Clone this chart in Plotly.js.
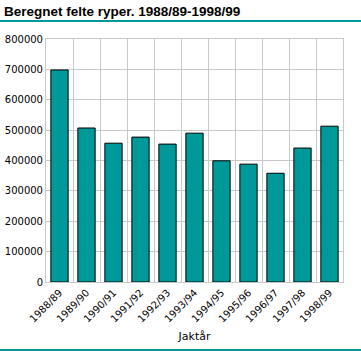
<!DOCTYPE html>
<html><head><meta charset="utf-8">
<script src="https://cdn.plot.ly/plotly-3.0.1.min.js"></script>
<style>body{margin:0;background:#fff}#c{width:361px;height:351px}</style>
</head><body><div id="c"></div>
<script>
const seasons = ["1988/89","1989/90","1990/91","1991/92","1992/93","1993/94","1994/95","1995/96","1996/97","1997/98","1998/99"];
const felte = [698000,507000,457000,477000,454000,490000,399000,388000,358000,441000,513000];
const titleText = "Beregnet felte ryper. 1988/89-1998/99";
const xTitle = "Jaktår";

const teal = "#009999";
Plotly.newPlot("c", [{
  type: "bar", x: seasons, y: felte, width: 0.64,
  marker: {color: teal, line: {color: "#000", width: 1}}
}], {
  width: 361, height: 351,
  margin: {l: 46, r: 18, t: 39, b: 69},
  paper_bgcolor: "#fff", plot_bgcolor: "#fff",
  font: {family: "DejaVu Sans, sans-serif", size: 10, color: "#000"},
  title: {text: titleText, x: 0.011, xanchor: "left", y: 0.969, yanchor: "middle",
          font: {family: "Liberation Sans, Arial, sans-serif", size: 13.5, weight: "bold", color: "#000"}},
  xaxis: {type: "category", tickson: "boundaries", showgrid: true, gridcolor: "#c8c8c8",
          tickangle: -45, ticks: "", showline: true, linecolor: "#c8c8c8", mirror: true,
          title: {text: xTitle, font: {size: 11}, standoff: 8}, automargin: false},
  yaxis: {range: [0, 800000], dtick: 100000, showgrid: true, gridcolor: "#c8c8c8",
          ticks: "", showline: true, linecolor: "#c8c8c8", mirror: true, zeroline: false,
          tickformat: "d", automargin: false},
  bargap: 0.36,
  showlegend: false,
  shapes: [
    {type: "line", xref: "paper", yref: "paper", x0: -0.16, x1: 1.07, y0: 1.074, y1: 1.074, line: {color: teal, width: 2}},
    {type: "line", xref: "paper", yref: "paper", x0: -0.16, x1: 1.07, y0: -0.28, y1: -0.28, line: {color: teal, width: 2}}
  ]
}, {displayModeBar: false, staticPlot: true});
</script></body></html>
